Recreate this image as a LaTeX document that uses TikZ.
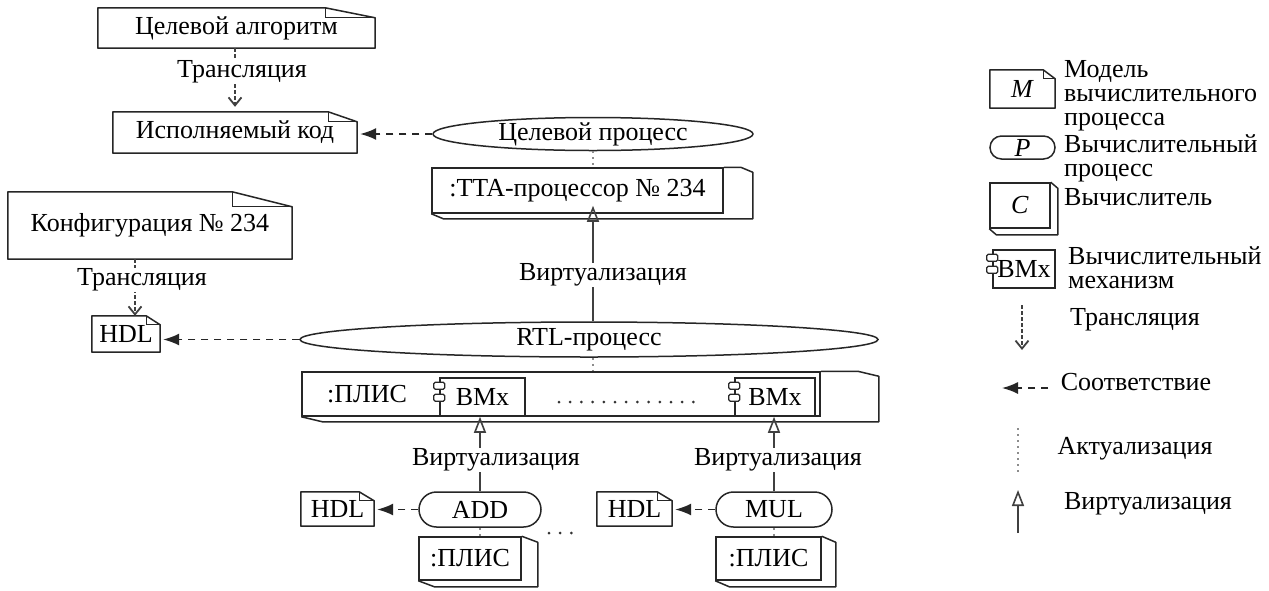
\documentclass[tikz,border=0pt]{standalone}
\usepackage{fontspec}
\setmainfont{Liberation Serif}
\usetikzlibrary{arrows.meta,shapes.geometric,shapes.misc,calc}
\newcommand{\mkNote}[8]{%
  \node[notenode, minimum width=#4pt, minimum height=#5pt] (#1) at (#2,#3) {#6};
  \draw[boxline, line join=round] (#1.south west) -- (#1.north west) -- ([xshift=-#7pt]#1.north east) -- ([yshift=-#8pt]#1.north east) -- (#1.south east) -- cycle;
  \draw[boxline, line width=1pt] ([xshift=-#7pt]#1.north east) |- ([yshift=-#8pt]#1.north east);
}
\newcommand{\mkCube}[9]{%
  \node[boxnode, minimum width=#4pt, minimum height=#5pt] (#1) at (#2,#3) {#6};
  \draw[boxline, line join=round] (#1.north east) -- ++(#7-#9,0) -- ++(#9,#8) -- ([shift={(#7pt,-#8pt)}]#1.south east) -- ([shift={(#9pt,-#8pt)}]#1.south west) -- (#1.south west);
}
\newcommand{\mkComp}[6]{%
  \node[boxnode, minimum width=#4pt, minimum height=#5pt] (#1) at (#2,#3) {#6};
  \draw[iconline] ([shift={(-5.5pt,-5pt)}]#1.north west) rectangle ++(11,7);
  \draw[iconline] ([shift={(-5.5pt,-17pt)}]#1.north west) rectangle ++(11,7);
}
\begin{document}
\begin{tikzpicture}[x=1pt,y=-1pt, font=\fontsize{26}{27}\selectfont,
  boxline/.style={draw=black!85, line width=1.5pt},
  notenode/.style={inner sep=0pt},
  boxnode/.style={draw=black!85, line width=1.5pt, inner sep=0pt, fill=white},
  procell/.style={ellipse, draw=black!85, line width=1.5pt, inner sep=0pt},
  procst/.style={rounded rectangle, draw=black!85, line width=1.5pt, inner sep=0pt},
  iconline/.style={draw=black!85, line width=1.1pt, fill=white, rounded corners=1.5pt},
  lbl/.style={fill=white, inner sep=1pt},
  legtxt/.style={align=left, inner sep=0pt, font=\fontsize{26}{24}\selectfont},
  virt/.style={draw=black!75, line width=1.5pt, -{Triangle[open,length=16pt,width=12pt,line width=1.6pt]}},
  corr/.style={draw=black!85, line width=1.6pt, dash pattern=on 7pt off 6pt, -{Latex[length=16pt,width=12pt]}},
  transl/.style={draw=black!75, line width=1.4pt, dash pattern=on 3.5pt off 2.5pt, -{Straight Barb[length=8pt,width=13pt,line width=1.8pt]}},
  actu/.style={draw=black!45, line width=1.8pt, dash pattern=on 2pt off 4pt},
  dotrow/.style={draw=black!80, line width=3pt, line cap=round, dash pattern=on 0pt off 11.2pt},
]
\useasboundingbox[fill=white] (0,0) rectangle (1269,590);

% notes
\mkNote{alg}{236.5}{28}{277}{40}{Целевой алгоритм}{50}{10}
\mkNote{exe}{235}{132.5}{244}{41}{Исполняемый код}{29}{10}
\mkNote{conf}{150}{225.5}{284}{67}{Конфигурация № 234}{60}{15}
\mkNote{hdlz}{126}{334}{68}{36}{HDL}{14}{9}
\mkNote{hdla}{337.5}{509}{73}{34}{HDL}{15}{9}
\mkNote{hdlb}{634.5}{509}{75}{34}{HDL}{15}{9}
\mkNote{legm}{1022.5}{89}{65}{38}{\textit{M}}{12}{9}

% processes
\node[procell, minimum width=320pt, minimum height=32pt] (tgt) at (593,134) {Целевой процесс};
\node[procell, minimum width=578pt, minimum height=35pt] (rtl) at (589,339.5) {RTL-процесс};
\node[procst, minimum width=122pt, minimum height=35pt] (add) at (480,509.5) {ADD};
\node[procst, minimum width=116pt, minimum height=35pt] (mul) at (774,509.5) {MUL};
\node[procst, minimum width=65pt, minimum height=23pt] (legp) at (1022.5,147.5) {\textit{P}};

% computers
\mkCube{tta}{577.5}{190.5}{291}{45}{:TTA-процессор № 234}{29}{5}{12}
\mkCube{fpga}{561}{394}{518}{44}{}{58}{5}{21}
\node (fpgal) at (367,394) {:ПЛИС};
\mkCube{plisa}{470}{558.5}{102}{43}{:ПЛИС}{16}{6}{16}
\mkCube{plisb}{768.5}{558.5}{105}{43}{:ПЛИС}{14}{6}{14}
\mkCube{legc}{1020}{205.5}{60}{45}{\textit{C}}{7}{6}{7}

% components
\mkComp{bmxa}{482.5}{397}{85}{38}{ВМх}
\mkComp{bmxb}{775}{397}{80}{38}{ВМх}
\mkComp{legb}{1024}{269}{62}{38}{ВМх}

\draw[dotrow] (559,402) -- (694,402);
\draw[dotrow] (549,533) -- (574,533);

% connectors
\draw[transl, shorten >=5pt] (exe.north |- alg.south) -- (exe.north);
\node[lbl] (tl1) at (242,72) {Трансляция};
\draw[corr, shorten >=3pt] (tgt.west) -- (tgt.west -| exe.east);
\draw[actu] (tgt.south) -- (tgt.south |- tta.north);
\draw[virt, shorten >=-8pt] (tgt.south |- rtl.north) -- (tgt.south |- tta.south);
\node[lbl] (vl0) at (603,275) {Виртуализация};

\coordinate (ct) at ([xshift=-15pt]conf.south);
\draw[transl] (ct) -- (ct |- hdlz.north);
\node[lbl] (tl2) at (142,280) {Трансляция};
\draw[corr, shorten >=3pt] (rtl.west) -- (rtl.west -| hdlz.east);
\draw[actu] (tgt.south |- rtl.south) -- (tgt.south |- fpga.north);

\draw[virt] (add.north) -- (add.north |- bmxa.south);
\node[lbl] (vl1) at (496,460) {Виртуализация};
\draw[virt] (mul.north) -- (mul.north |- bmxb.south);
\node[lbl] (vl2) at (778,460) {Виртуализация};
\draw[corr, shorten >=3pt] (add.west) -- (add.west -| hdla.east);
\draw[corr, shorten >=3pt] (mul.west) -- (mul.west -| hdlb.east);
\draw[actu] (add.south) -- (add.south |- plisa.north);
\draw[actu] (mul.south) -- (mul.south |- plisb.north);

% legend
\coordinate (lt1) at (1022,305); \coordinate (lt2) at (1022,350);
\draw[transl] (lt1) -- (lt2);
\coordinate (lc1) at (1048,388); \coordinate (lc2) at (1002,388);
\draw[corr] (lc1) -- (lc2);
\coordinate (la1) at (1018,428); \coordinate (la2) at (1018,473);
\draw[actu] (la1) -- (la2);
\coordinate (lv1) at (1018,533); \coordinate (lv2) at (1018,490);
\draw[virt] (lv1) -- (lv2);

\node[legtxt, anchor=north west] (t1) at (1064,60) {Модель\\вычислительного\\процесса};
\node[legtxt, anchor=north west] (t2) at (1064,134) {Вычислительный\\процесс};
\node[legtxt, anchor=west] (t3) at (1064,197) {Вычислитель};
\node[legtxt, anchor=north west] (t4) at (1068,246) {Вычислительный\\механизм};
\node (t5) at (1135,320) {Трансляция};
\node (t6) at (1136,382) {Соответствие};
\node (t7) at (1135,449) {Актуализация};
\node (t8) at (1148,504) {Виртуализация};
\end{tikzpicture}
\end{document}
